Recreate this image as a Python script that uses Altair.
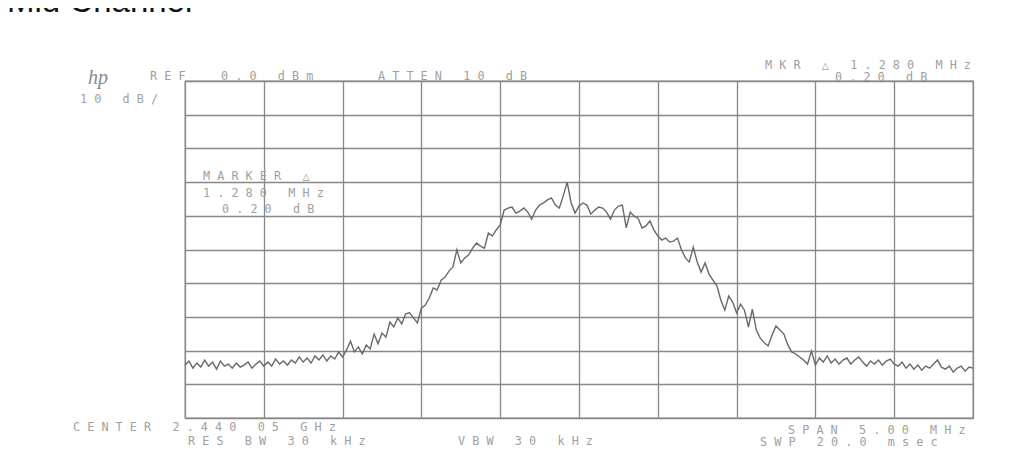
import altair as alt
import pandas as pd
import numpy as np

# ---------------- data ----------------
start_mhz = 2437.55          # CENTER 2.44005 GHz, SPAN 5 MHz
stop_mhz = 2442.55
ref_dbm = 0.0                # REF 0.0 dBm, 10 dB/div
bottom_dbm = -100.0

level_dbm = [
    -84.3, -83.1, -85.2, -83.7, -84.9, -82.8, -84.6, -83.4, -85.5, -83.1,
    -84.6, -84.0, -85.2, -83.7, -84.9, -84.3, -83.4, -85.2, -84.0, -83.1,
    -84.6, -83.4, -84.6, -82.5, -84.0, -83.1, -84.3, -82.8, -83.7, -81.9,
    -83.4, -82.2, -83.7, -81.6, -82.8, -81.3, -83.1, -81.6, -82.5, -80.4,
    -81.9, -79.8, -77.2, -80.4, -78.9, -81.0, -78.3, -79.5, -75.1, -78.0,
    -74.8, -76.0, -71.5, -73.0, -70.3, -72.1, -69.1, -68.8, -70.3, -71.8,
    -67.4, -66.5, -64.4, -61.4, -62.0, -59.1, -58.2, -56.4, -55.2, -50.1,
    -54.0, -52.5, -51.6, -49.6, -48.1, -49.0, -49.6, -45.1, -46.0, -44.2,
    -42.7, -38.3, -37.7, -37.4, -39.2, -38.6, -37.7, -38.9, -41.0, -38.3,
    -36.8, -36.2, -35.3, -34.7, -36.8, -37.7, -34.1, -30.0, -36.2, -39.2,
    -37.1, -36.2, -36.8, -39.5, -38.3, -37.4, -37.7, -38.9, -41.0, -38.3,
    -37.1, -36.8, -43.6, -38.9, -40.1, -40.7, -43.6, -43.0, -41.5, -44.2,
    -46.0, -47.2, -46.6, -47.8, -47.5, -46.6, -50.1, -52.5, -53.7, -49.3,
    -53.7, -56.7, -54.0, -57.3, -59.1, -60.8, -65.0, -68.0, -63.8, -65.6,
    -68.8, -66.2, -68.0, -73.0, -67.7, -73.9, -76.3, -77.7, -78.6, -75.4,
    -72.7, -73.9, -75.1, -78.3, -80.4, -81.0, -81.9, -82.8, -84.0, -80.1,
    -84.3, -82.2, -83.4, -81.6, -83.7, -82.5, -84.0, -82.8, -82.2, -84.0,
    -82.8, -81.9, -83.4, -84.6, -83.1, -84.0, -82.8, -84.3, -83.1, -82.5,
    -84.0, -84.6, -83.4, -85.2, -84.0, -85.5, -84.3, -85.8, -84.6, -85.2,
    -84.0, -82.8, -84.9, -85.5, -84.6, -86.4, -85.2, -84.6, -86.1, -84.9,
    -85.2,
]

x_grid = [2437.55, 2438.05, 2438.55, 2439.05, 2439.55, 2440.05,
          2440.55, 2441.05, 2441.55, 2442.05, 2442.55]
y_grid = [-100, -90, -80, -70, -60, -50, -40, -30, -20, -10, 0]

title_text = "Mid Channel"
logo_text = "hp"
ref_text = "REF  0.0 dBm"
atten_text = "ATTEN 10 dB"
scale_text = "10 dB/"
mkr_text = "MKR \u25b3 1.280 MHz"
mkr_val_text = "0.20 dB"
marker_lines = ["MARKER \u25b3", "1.280 MHz", "0.20 dB"]
center_text = "CENTER 2.440 05 GHz"
rbw_text = "RES BW 30 kHz"
vbw_text = "VBW 30 kHz"
span_text = "SPAN 5.00 MHz"
swp_text = "SWP 20.0 msec"

# sweep points are evenly spaced across the span
freq = np.linspace(start_mhz, stop_mhz, len(level_dbm))
df = pd.DataFrame({"freq": freq, "level": level_dbm})


def spaced(s):
    # wide plotter-style lettering: one blank cell between characters
    return "\u00a0".join(s.replace(" ", "\u00a0"))


W, H = 788, 337
GRID = "#888888"
TXT = "#a0a0a0"
MONO = "DejaVu Sans Mono"

xs = alt.Scale(domain=[start_mhz, stop_mhz], nice=False, zero=False)
ys = alt.Scale(domain=[bottom_dbm, ref_dbm], nice=False, zero=False)

trace = alt.Chart(df).mark_line(color="#696969", strokeWidth=1.4).encode(
    x=alt.X("freq:Q", scale=xs,
            axis=alt.Axis(values=x_grid, grid=True, labels=False, ticks=False,
                          domain=False, title=None, gridColor=GRID, gridWidth=1.3)),
    y=alt.Y("level:Q", scale=ys,
            axis=alt.Axis(values=y_grid, grid=True, labels=False, ticks=False,
                          domain=False, title=None, gridColor=GRID, gridWidth=1.3)),
)


def label(s, px, py, size=11.8, color=TXT, font=MONO, style="normal", align="left", raw=False):
    return alt.Chart(df.head(1)).mark_text(
        align=align, baseline="middle", font=font, fontSize=size,
        color=color, fontStyle=style, clip=False,
    ).encode(x=alt.value(px), y=alt.value(py), text=alt.value(s if raw else spaced(s)))


layers = [trace]
layers.append(alt.Chart(df.head(1)).mark_text(
    align="left", baseline="alphabetic", font="Liberation Sans", fontSize=33,
    color="#111111").encode(x=alt.value(-178), y=alt.value(-69), text=alt.value(title_text)))
layers.append(label(logo_text, -97, -3, size=20, color="#8a8a8a",
                    font="Liberation Serif", style="italic", raw=True))
layers.append(label(ref_text, -35, -5))
layers.append(label(atten_text, 193, -5))
layers.append(label(scale_text, -105, 18))
layers.append(label(mkr_text, 580, -16))
layers.append(label(mkr_val_text, 650, -4))
layers.append(label(marker_lines[0], 18, 95))
layers.append(label(marker_lines[1], 18, 112))
layers.append(label(marker_lines[2], 37, 128))
layers.append(label(center_text, -112, 346))
layers.append(label(rbw_text, 3, 360))
layers.append(label(vbw_text, 273, 360))
layers.append(label(span_text, 603, 349))
layers.append(label(swp_text, 575, 361))

chart = alt.layer(*layers).properties(
    width=W, height=H,
    autosize=alt.AutoSizeParams(type="none"),
    padding={"left": 177, "top": 73, "right": 42, "bottom": 40},
    background="white",
).configure_view(stroke=GRID, strokeWidth=1.3)

chart.save("out.html", embed_options={"renderer": "svg", "actions": False})
